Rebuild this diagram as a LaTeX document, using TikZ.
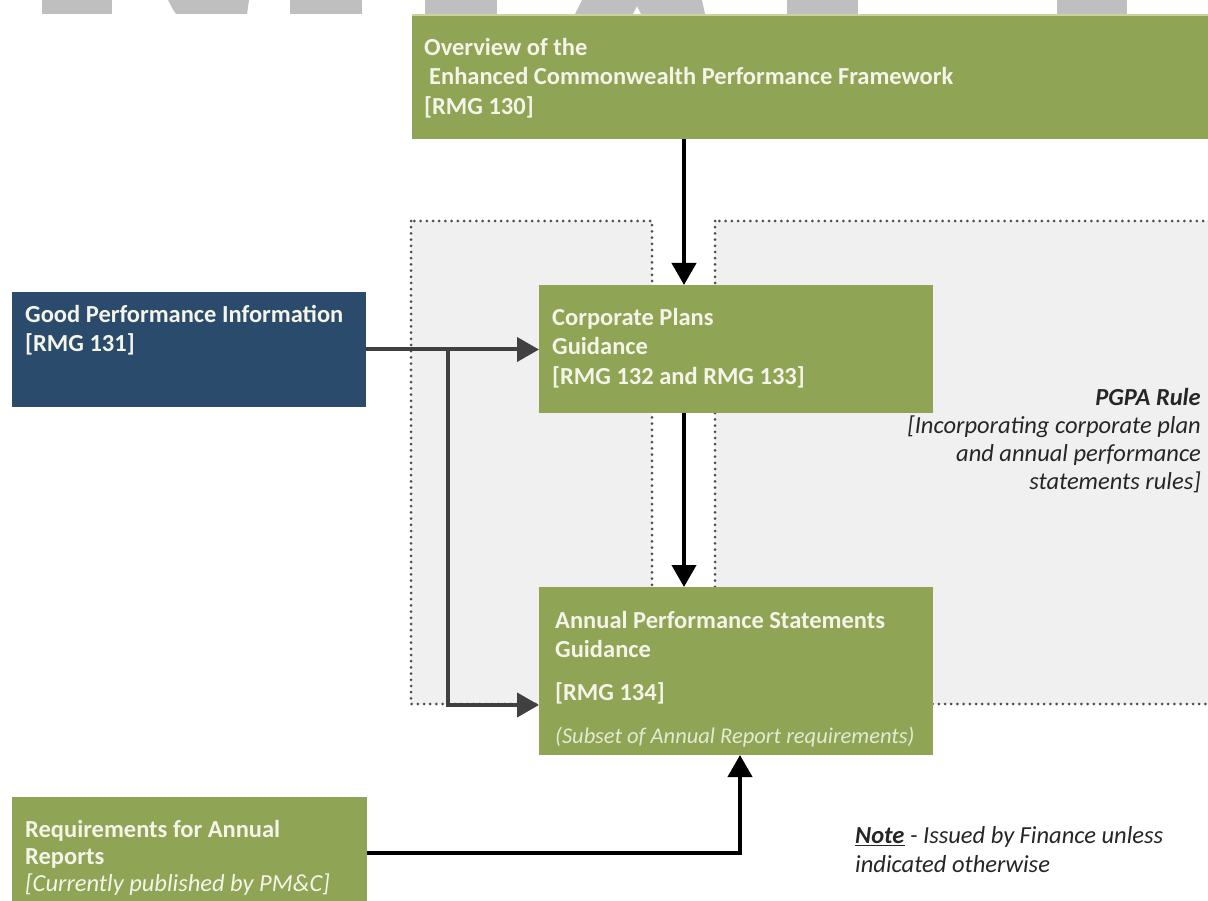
\documentclass[tikz,border=0pt]{standalone}
\usepackage{fontspec}
\setmainfont{Carlito}
\usetikzlibrary{arrows.meta}

\definecolor{boxgreen}{HTML}{8FA454}
\definecolor{boxedge}{HTML}{C6D49E}
\definecolor{boxblue}{HTML}{2A4B6C}
\definecolor{boxtext}{HTML}{F4F4E8}
\definecolor{subtext}{HTML}{E4EAD2}
\definecolor{panelgray}{HTML}{F0F0F0}
\definecolor{dotgray}{HTML}{4E4E4E}
\definecolor{marks}{HTML}{BFBFBF}
\definecolor{linkgray}{HTML}{404040}
\definecolor{inktext}{HTML}{262626}

\begin{document}
\begin{tikzpicture}[x=1pt,y=-1pt,
  greenbox/.style={fill=boxgreen, draw=none, anchor=north west, inner sep=0pt, outer sep=0pt},
  bluebox/.style={fill=boxblue, draw=none, anchor=north west, inner sep=0pt, outer sep=0pt},
  boxlabel/.style={anchor=north west, inner sep=0pt, align=left, text=boxtext,
    font=\fontsize{24.5}{29.5}\selectfont\bfseries},
  sublabel/.style={anchor=north west, inner sep=0pt, align=left, text=subtext,
    font=\fontsize{22.5}{26}\selectfont\itshape},
  plainlabel/.style={inner sep=0pt, text=inktext, font=\fontsize{24.5}{28}\selectfont\itshape},
  panel/.style={fill=panelgray, draw=dotgray, line width=3pt, dash pattern=on 0pt off 6.2pt, line cap=round},
  flow/.style={line width=4pt, -{Triangle[length=22pt,width=24pt]}},
]
\useasboundingbox (0,0) rectangle (1208,901);
\clip (0,0) rectangle (1208,901);
\fill[white] (0,0) rectangle (1208,901);

% grey letter fragments along the top edge
\fill[marks] (42,0) rectangle (112,14);
\fill[marks] (168,0) -- (249,0) -- (247,14) -- (176,14) .. controls (172,8) .. (168,0) -- cycle;
\fill[marks] (290,0) rectangle (362,14);
\fill[marks] (425,0) rectangle (497,14);
\fill[marks] (582,0) -- (702,0) -- (705,14) -- (641,14) -- (637,6) -- (633,14) -- (575,14) -- cycle;
\fill[marks] (787,0) rectangle (858,14);
\fill[marks] (1057,0) rectangle (1127,14);

% dotted panels behind the guidance boxes
\draw[panel] (411,221) rectangle (652,704);
\draw[panel] (715,221) rectangle (1220,704);

% boxes
\node[greenbox, minimum width=800pt, minimum height=124pt] (overview) at (412,15) {};
\draw[boxedge, line width=2pt] (overview.north west) -- (overview.north east);
\node[bluebox, minimum width=354pt, minimum height=115pt] (gpi) at (12,292) {};
\node[greenbox, minimum width=394pt, minimum height=128pt] (corp) at (539,285) {};
\node[greenbox, minimum width=394pt, minimum height=168pt] (annual) at (539,587) {};
\node[greenbox, minimum width=355pt, minimum height=112pt] (req) at (12,797) {};

% box texts
\node[boxlabel] (overviewtext) at (424,38)
  {Overview of the\\\hspace*{5pt}Enhanced Commonwealth Performance Framework\\{}[RMG 130]};
\node[boxlabel] (gpitext) at (25,305) {Good Performance Information\\{}[RMG 131]};
\node[boxlabel] (corptext) at (552,308) {Corporate Plans\\Guidance\\{}[RMG 132 and RMG 133]};
\node[boxlabel] (annualtext) at (555,611) {Annual Performance Statements\\Guidance};
\node[boxlabel] (annualref) at (555,682) {[RMG 134]};
\node[sublabel] (annualsub) at (555,727) {(Subset of Annual Report requirements)};
\node[boxlabel, font=\fontsize{24.5}{27}\selectfont\bfseries] (reqtext) at (25,820)
  {Requirements for Annual\\Reports\\{\mdseries\itshape [Currently published by PM\&C]}};

% free text
\node[plainlabel, anchor=north east, align=right] (pgpa) at (1201,388)
  {\textbf{PGPA Rule}\\{}[Incorporating corporate plan\\and annual performance\\statements rules]};
\node[plainlabel, anchor=north west, align=left, font=\fontsize{24.5}{29.5}\selectfont\itshape] (note) at (855,826)
  {\textbf{\underline{Note}} - Issued by Finance unless\\indicated otherwise};

% connectors
\coordinate (spine) at (684,0);
\coordinate (branch) at (448,0);
\coordinate (lowentry) at (0,705);
\coordinate (rise) at (740,0);

\draw[flow] (overview.south -| spine) -- (corp.north -| spine);
\draw[flow] (corp.south -| spine) -- (annual.north -| spine);
\draw[flow, linkgray] (gpi.east) -- (gpi.east -| corp.west);
\draw[flow, linkgray] (gpi.east -| branch) -- (lowentry -| branch) -- (lowentry -| annual.west);
\draw[flow] (req.east) -| (annual.south -| rise);
\end{tikzpicture}
\end{document}
